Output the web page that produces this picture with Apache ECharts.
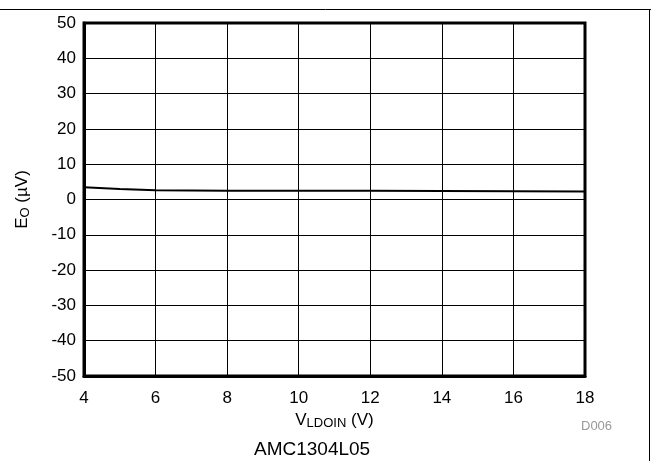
<!DOCTYPE html>
<html><head><meta charset="utf-8">
<script src="https://cdn.jsdelivr.net/npm/echarts@6/dist/echarts.min.js"></script>
<style>html,body{margin:0;padding:0;background:#fff}#c{width:651px;height:461px}</style>
</head><body><div id="c"></div>
<script>
const xValues = [4, 5, 6, 8, 10, 12, 14, 16, 18];
const eoValues = [3.5, 3.0, 2.6, 2.5, 2.5, 2.45, 2.4, 2.35, 2.3];
const xTicks = [4, 6, 8, 10, 12, 14, 16, 18];
const yTicks = [-50, -40, -30, -20, -10, 0, 10, 20, 30, 40, 50];

const chart = echarts.init(document.getElementById('c'), null, {renderer: 'canvas'});
const font = 'Liberation Sans, Arial, sans-serif';
chart.setOption({
  animation: false,
  backgroundColor: '#fff',
  grid: {left: 84, right: 66, top: 23, bottom: 85, containLabel: false,
         show: true, borderColor: '#000', borderWidth: 3, backgroundColor: 'transparent'},
  xAxis: {
    type: 'value', min: 4, max: 18, interval: 2,
    axisLine: {show: true, onZero: false, lineStyle: {color: '#000', width: 3}},
    axisTick: {show: false},
    splitLine: {show: true, lineStyle: {color: '#000', width: 1}},
    axisLabel: {color: '#000', fontSize: 17, fontFamily: font, margin: 14},
    name: '{n|V}{s|LDOIN}{n| (V)}',
    nameLocation: 'middle', nameGap: 32,
    nameTextStyle: {rich: {
      n: {fontSize: 17, fontFamily: font, color: '#000'},
      s: {fontSize: 13, fontFamily: font, color: '#000', verticalAlign: 'bottom', padding: [6, 0, 0, 0]}
    }}
  },
  yAxis: {
    type: 'value', min: -50, max: 50, interval: 10,
    axisLine: {show: true, onZero: false, lineStyle: {color: '#000', width: 3}},
    axisTick: {show: false},
    splitLine: {show: true, lineStyle: {color: '#000', width: 1}},
    axisLabel: {color: '#000', fontSize: 17, fontFamily: font, margin: 8},
    name: '{n|E}{s|O}{n| (µV)}',
    nameLocation: 'middle', nameGap: 52, nameRotate: 90,
    nameTextStyle: {rich: {
      n: {fontSize: 17, fontFamily: font, color: '#000'},
      s: {fontSize: 13, fontFamily: font, color: '#000', verticalAlign: 'bottom', padding: [6, 0, 0, 0]}
    }}
  },
  series: [{
    type: 'line', data: xValues.map((x, i) => [x, eoValues[i]]),
    showSymbol: false, smooth: false,
    lineStyle: {color: '#000', width: 2}
  }],
  graphic: [
    {type: 'line', shape: {x1: 0, y1: 9.5, x2: 651, y2: 9.5}, style: {stroke: '#000', lineWidth: 1}},
    {type: 'line', shape: {x1: 649.5, y1: 9, x2: 649.5, y2: 461}, style: {stroke: '#000', lineWidth: 1}},
    {type: 'text', left: 581, top: 420, style: {text: 'D006', fill: '#999', fontSize: 13, fontFamily: font}},
    {type: 'text', left: 254, top: 440, style: {text: 'AMC1304L05', fill: '#000', fontSize: 19, fontFamily: font}}
  ]
});
</script></body></html>
